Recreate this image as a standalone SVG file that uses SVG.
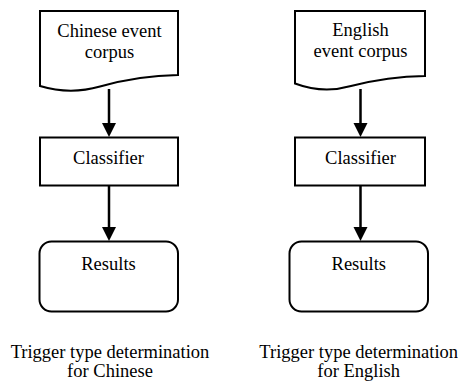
<svg xmlns="http://www.w3.org/2000/svg" width="458" height="385" viewBox="0 0 458 385">
<defs>
<style>
.box{fill:#fff;stroke:#000;stroke-width:2}
.t{font-size:18.5px;fill:#000;text-anchor:middle}
.c{stroke:#000;stroke-width:2.5;fill:none}
.h{fill:#000;stroke:none}
</style>
</defs>
<rect width="458" height="385" fill="#fff"/>
<g id="connectors">
<line class="c" x1="109" y1="89" x2="109" y2="124"/>
<polygon class="h" points="102,123 116,123 109,137"/>
<line class="c" x1="109" y1="186" x2="109" y2="228"/>
<polygon class="h" points="102,227 116,227 109,241"/>
<line class="c" x1="360.5" y1="89" x2="360.5" y2="124"/>
<polygon class="h" points="353.5,123 367.5,123 360.5,137"/>
<line class="c" x1="360.5" y1="186" x2="360.5" y2="228"/>
<polygon class="h" points="353.5,227 367.5,227 360.5,241"/>
</g>
<g font-family="Liberation Serif, Times New Roman, DejaVu Serif, serif">
<g id="cn-corpus">
<path class="box" d="M40,11 H178 V75 Q139,75.5 100,86.5 Q70,95 40,86 Z"/>
<text class="t" x="109.5" y="37">Chinese event</text>
<text class="t" x="109.5" y="58">corpus</text>
</g>
<g id="cn-classifier">
<rect class="box" x="40" y="137.5" width="138" height="48"/>
<text class="t" x="108.5" y="163.5">Classifier</text>
</g>
<g id="cn-results">
<rect class="box" x="39.5" y="241.5" width="138.5" height="70" rx="12" ry="12"/>
<text class="t" x="108.5" y="270">Results</text>
</g>
<g id="cn-caption">
<text class="t" x="110" y="358">Trigger type determination</text>
<text class="t" x="110" y="377">for Chinese</text>
</g>
<g id="en-corpus">
<path class="box" d="M295,11 H425 V76 Q388,76.5 351,86 Q323,94 295,83.5 Z"/>
<text class="t" x="360.5" y="36">English</text>
<text class="t" x="360.5" y="57">event corpus</text>
</g>
<g id="en-classifier">
<rect class="box" x="295" y="137.5" width="130" height="48"/>
<text class="t" x="360.5" y="163.5">Classifier</text>
</g>
<g id="en-results">
<rect class="box" x="289.5" y="241.5" width="138.5" height="70" rx="12" ry="12"/>
<text class="t" x="358.8" y="270">Results</text>
</g>
<g id="en-caption">
<text class="t" x="358.7" y="358">Trigger type determination</text>
<text class="t" x="358.7" y="377">for English</text>
</g>
</g>
</svg>
